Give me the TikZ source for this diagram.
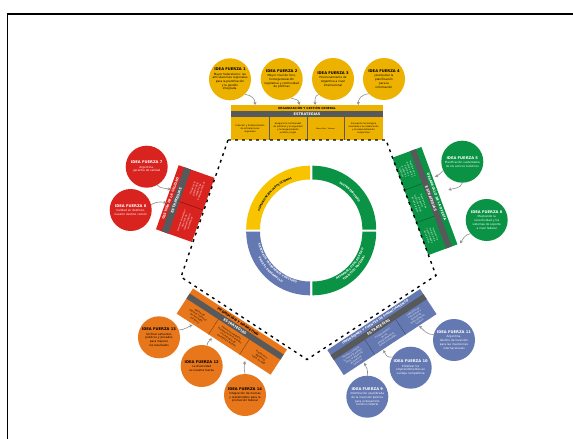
\documentclass[tikz,border=0pt]{standalone}
\usepackage{fontspec}
\setmainfont{DejaVu Sans}
\usetikzlibrary{arrows.meta,decorations.text}
\definecolor{cyel}{HTML}{EDB100}
\definecolor{cyel2}{HTML}{F8C400}
\definecolor{cred}{HTML}{D9231F}
\definecolor{cgre}{HTML}{0A9344}
\definecolor{cora}{HTML}{E8761A}
\definecolor{cblu}{HTML}{6478B1}
\definecolor{cgry}{HTML}{58595B}
\definecolor{carr}{HTML}{8E8E8E}
\tikzset{
  ideacirc/.style={circle,minimum size=42pt,inner sep=0pt},
  ideatxt/.style={inner sep=0pt,align=center,font=\fontsize{2.8}{3.7}\selectfont},
  cell/.style={font=\fontsize{2.2}{3}\selectfont,align=center,transform shape,inner sep=0pt},
  titletxt/.style={font=\fontsize{3.2}{3.4}\selectfont\bfseries,transform shape,inner sep=0pt},
  strat/.style={font=\fontsize{3.5}{3.7}\selectfont\bfseries,transform shape,inner sep=0pt,white},
  link/.style={draw=carr,line width=.6pt,-{Stealth[length=3.2pt,width=3.2pt]}},
  pent/.style={black,line width=1.4pt,dash pattern=on 2.8pt off 4.2pt},
  ringlab/.style={decorate,decoration={text along path,text align=center,raise=-1pt}},
}
% #1 colour, #2 width, #3 height, #4 title band, #5 grey band end
\newcommand{\boxbase}[5]{%
  \fill[#1] (0,0) rectangle (#2,#3);
  \fill[cgry] (0,#4) rectangle (#2,#5);
}
% #1 name, #2 fill, #3 text colour, #4 position, #5 number, #6 text
\newcommand{\idea}[6]{%
  \node[ideacirc,fill=#2] (#1) at (#4) {};
  \node[ideatxt,text=#3] (#1t) at (#1) {{\fontsize{3.7}{4.4}\selectfont\bfseries IDEA FUERZA #5}\\[.6pt]#6};
}
\newcommand{\rfont}{\fontsize{2.7}{3}\selectfont\bfseries}
\begin{document}
\begin{tikzpicture}[x=1pt,y=-1pt]
\useasboundingbox (0,0) rectangle (573,439);
\fill[white] (0,0) rectangle (573,439);
% frame (only top and left are inside the picture)
\draw[black,line width=1.5pt] (573,14) -- (7.5,14) -- (7.5,439);

% dashed pentagon
\coordinate (pa) at (228,140);
\coordinate (pb) at (386,140);
\coordinate (pc) at (436,275.5);
\coordinate (pd) at (307,359.5);
\coordinate (pe) at (181,277);

% ring: local y points up
\begin{scope}[shift={(311.2,230.5)},y=1pt]
\fill[cyel2] (-1.2,1) ++(180:63.8) arc[start angle=180,end angle=90,radius=63.8] -- ++(0,-13.8) arc[start angle=90,end angle=180,radius=50] -- cycle;
\fill[cgre] (1.2,1) ++(90:63.8) arc[start angle=90,end angle=0,radius=63.8] -- ++(-13.8,0) arc[start angle=0,end angle=90,radius=50] -- cycle;
\fill[cgre] (1.2,-1) ++(0:63.8) arc[start angle=0,end angle=-90,radius=63.8] -- ++(0,13.8) arc[start angle=-90,end angle=0,radius=50] -- cycle;
\fill[cblu] (-1.2,-1) ++(-90:63.8) arc[start angle=-90,end angle=-180,radius=63.8] -- ++(13.8,0) arc[start angle=-180,end angle=-90,radius=50] -- cycle;
\path[ringlab,decoration={text={|\rfont|COMUNICACIÓN INSTITUCIONAL}}]
  (172:56) arc[start angle=172,end angle=98,radius=56];
\path[ringlab,decoration={text={|\rfont\color{white}|SUSTENTABILIDAD}}]
  (85:56) arc[start angle=85,end angle=5,radius=56];
\path[ringlab,decoration={text={|\rfont\color{white}|DESARROLLO DEL DESTINO}}]
  (-76:54.5) arc[start angle=-76,end angle=-6,radius=54.5];
\path[ringlab,decoration={text={|\rfont\color{white}|TURÍSTICO NACIONAL}}]
  (-76:58.5) arc[start angle=-76,end angle=-6,radius=58.5];
\path[ringlab,decoration={text={|\rfont\color{white}|SISTEMA DE TRANSPORTE Y DESTINO}}]
  (186:53.5) arc[start angle=186,end angle=262,radius=53.5];
\path[ringlab,decoration={text={|\rfont\color{white}|PARA EL DESARROLLO}}]
  (186:58.5) arc[start angle=186,end angle=262,radius=58.5];
\end{scope}

% ===== top box =====
\begin{scope}[shift={(231,105)}]
  \boxbase{cyel}{152}{35}{6}{11.7}
  \draw[cgry,line width=.3pt] (38,11.7) -- (38,35) (75.7,11.7) -- (75.7,35) (113,11.7) -- (113,35);
  \node[titletxt,font=\fontsize{2.8}{3.2}\selectfont\bfseries] (ttop) at (76,3) {ORGANIZACIÓN Y GESTIÓN GENERAL};
  \node[strat] (stop) at (76,8.9) {ESTRATEGIAS};
  \node[cell] (t1) at (19,23.5) {Creación y fortalecimiento\\de articulaciones\\regionales};
  \node[cell] (t2) at (57,23.5) {Asegurar la continuidad\\de políticas y la seguridad\\y homogeneización\\jurídica y legal};
  \node[cell,font=\fontsize{1.8}{3}\selectfont] (t3) at (94.5,23.5) {Marca País - Turismo};
  \node[cell] (t4) at (132.5,23.5) {Innovación tecnológica\\orientada a la colaboración\\y al emprendimiento\\cooperativo};
\end{scope}

% ===== red box =====
\begin{scope}[shift={(156,229.3)},rotate=70.5]
  \boxbase{cred}{68}{38}{6}{13}
  \draw[black!60!cred,line width=.3pt] (34,13) -- (34,38);
  \node[titletxt,white] (tred) at (34,3) {GESTIÓN DE LA CALIDAD};
  \node[strat] (sred) at (34,9.5) {ESTRATEGIAS};
  \node[cell,white] (r1) at (17,25.5) {Generar y fortalecer\\sistemas de\\calidad turística\\en destinos};
  \node[cell,white] (r2) at (51,25.5) {Fortalecer la\\gestión de la\\calidad y las\\buenas prácticas};
\end{scope}

% ===== green box =====
\begin{scope}[shift={(421.4,147)},rotate=-69.7]
  \boxbase{cgre}{103.8}{31}{6}{12}
  \draw[black!50!cgre,line width=.3pt] (34.6,12) -- (34.6,31) (69.2,12) -- (69.2,31);
  \node[titletxt,white] (tgre) at (52,3) {DESARROLLO DE LA OFERTA};
  \node[strat] (sgre) at (52,9) {ESTRATEGIAS};
  \node[cell,white] (g1) at (17.3,21.5) {Planificación y\\gestión de los\\destinos y\\productos\\turísticos};
  \node[cell,white] (g2) at (51.9,21.5) {Desarrollo de\\productos\\turísticos a nivel\\de cada región};
  \node[cell,white] (g3) at (86.5,21.5) {Promover la\\mejora de la\\conectividad y\\los servicios};
\end{scope}

% ===== orange box =====
\begin{scope}[shift={(193,288.5)},rotate=-33]
  \boxbase{cora}{112}{30}{6}{12}
  \draw[black!55!cora,line width=.3pt] (38,12) -- (38,30) (75,12) -- (75,30);
  \node[titletxt] (tora) at (56,3) {PROMOCIÓN Y MARKETING};
  \node[strat] (sora) at (56,9) {ESTRATEGIAS};
  \node[cell] (o1) at (19,21) {Gestión de\\destinos turísticos\\de mercados\\turísticos};
  \node[cell] (o2) at (56.5,21) {Promoción mediante\\inteligencia de mercados\\y estrategias de\\marketing y gestión};
  \node[cell] (o3) at (94,21) {Promoción y\\Marketing\\hacia los ODS};
\end{scope}

% ===== blue box =====
\begin{scope}[shift={(327.3,350)},rotate=33.3]
  \boxbase{cblu}{111}{30}{6}{12}
  \draw[black!45!cblu,line width=.3pt] (37,12) -- (37,30) (74,12) -- (74,30);
  \node[titletxt,white,font=\fontsize{3}{3.4}\selectfont\bfseries] (tblu) at (55.5,3) {INVERSIONES Y FUENTES DE FINANCIAMIENTO};
  \node[strat] (sblu) at (55.5,9) {ESTRATEGIAS};
  \node[cell,white] (b1) at (18.5,21) {Facilitar y orientar\\la inversión pública\\hacia el desarrollo\\de destinos\\turísticos};
  \node[cell,white] (b2) at (55.5,21) {Fortalecimiento\\de los\\emprendimientos\\turísticos privados};
  \node[cell,white] (b3) at (92.5,21) {Captación de\\inversiones y\\fuentes de\\financiamiento\\turístico};
\end{scope}

% dashes
\draw[pent] (pa) -- (pb) -- (pc) -- (pd) -- (pe) -- cycle;

% ===== circles =====
\idea{i1}{cyel}{black}{230,79.3}{1}{Mayor federalismo: las\\articulaciones regionales\\para la planificación\\y la gestión\\integrada.}
\idea{i2}{cyel}{black}{281.7,79}{2}{Mayor nivel de foco,\\homogeneización\\legislativa y continuidad\\de políticas}
\idea{i3}{cyel}{black}{333,79}{3}{Posicionamiento de\\Argentina a nivel\\internacional}
\idea{i4}{cyel}{black}{384,79}{4}{Jerarquizar la\\planificación\\para la\\información}
\idea{i5}{cgre}{white}{462.3,161.7}{5}{Planificación sustentable\\de los activos turísticos}
\idea{i6}{cgre}{white}{486.7,220}{6}{Mejorando la\\conectividad y los\\sistemas de soporte\\a nivel federal}
\idea{i7}{cred}{white}{146.7,166.7}{7}{Argentina,\\garantía de calidad}
\idea{i8}{cred}{white}{130.7,210}{8}{Calidad en destinos,\\nuestro destino común}
\idea{i9}{cblu}{white}{367.3,396.7}{9}{Distribución equilibrada\\de la inversión pública\\para el desarrollo\\turístico federal}
\idea{i10}{cblu}{white}{410.7,367.7}{10}{Enfatizar los\\emprendimientos en\\ventaja competitiva}
\idea{i11}{cblu}{white}{454,340}{11}{Argentina,\\destino de inversión\\para las inversiones\\internacionales}
\idea{i12}{cora}{black}{201.7,366}{12}{La diversidad\\es nuestra fuerza}
\idea{i13}{cora}{black}{159,337.3}{13}{Unificar esfuerzos\\públicos y privados\\para mejorar\\los resultados}
\idea{i14}{cora}{black}{245,395}{14}{Integración de marcas\\y stakeholders para la\\promoción federal}

% ===== connector ends on the boxes =====
\coordinate (ta1) at (255,105);   \coordinate (ta2) at (299.3,105);
\coordinate (ta3) at (315,105);   \coordinate (ta4) at (358.3,105);
\coordinate (ga5a) at (435,176.7); \coordinate (ga5b) at (448.3,190);
\coordinate (ga6) at (460,243.3);
\coordinate (ra7) at (170.7,190);  \coordinate (ra8) at (166.7,202.7);
\coordinate (ba9) at (364.3,362.7); \coordinate (ba10) at (383.3,350);
\coordinate (ba11) at (419,326);
\coordinate (oa12) at (211.7,338); \coordinate (oa13) at (192.7,325);
\coordinate (oa14) at (245,361);

% ===== connectors =====
\draw[link] (i1.-45) .. controls +(7,1) and +(0,-6) .. (ta1);
\draw[link] (i2.-64) .. controls +(6,2) and +(-1,-6) .. (ta2);
\draw[link] (i3.-133) .. controls +(-4,1) and +(0,-5) .. (ta3);
\draw[link] (i4.-136) .. controls +(-8,1) and +(0,-6) .. (ta4);
\draw[link] (i5.-155) .. controls +(-3,3) and +(3,-1) .. (ga5a);
\draw[link] (i5.-90) .. controls +(-2,6) and +(6,-2) .. (ga5b);
\draw[link] (i6.-140) .. controls +(-6,1) and +(3,-4) .. (ga6);
\draw[link] (i7.-60) .. controls +(3,4) and +(-4,-2) .. (ra7);
\draw[link] (i8.15) .. controls +(6,-3) and +(-6,-1) .. (ra8);
\draw[link] (i9.90) .. controls +(1,-6) and +(2,5) .. (ba9);
\draw[link] (i10.150) .. controls +(-6,1) and +(2,4) .. (ba10);
\draw[link] (i11.165) .. controls +(-8,0) and +(4,3) .. (ba11);
\draw[link] (i12.75) .. controls +(0,-4) and +(-2,3) .. (oa12);
\draw[link] (i13.20) .. controls +(5,0) and +(-3,1) .. (oa13);
\draw[link] (i14.90) .. controls +(-1,-6) and +(-1,5) .. (oa14);
\end{tikzpicture}
\end{document}
